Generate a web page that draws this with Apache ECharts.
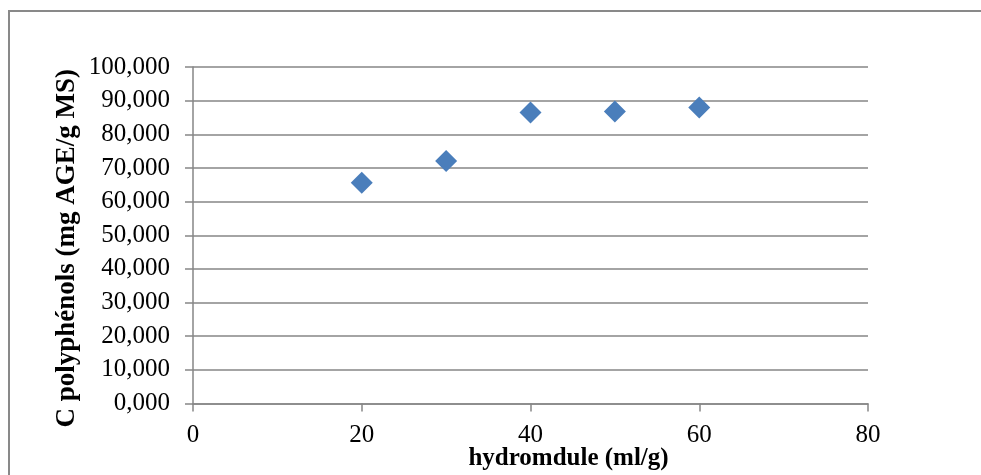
<!DOCTYPE html>
<html>
<head>
<meta charset="utf-8">
<script src="https://cdn.jsdelivr.net/npm/echarts@6/dist/echarts.min.js"></script>
<style>
html,body{margin:0;padding:0;background:#fff;}
#chart{width:981px;height:475px;}
</style>
</head>
<body>
<div id="chart"></div>
<script>
var hydromodule = [20, 30, 40, 50, 60];
var polyphenols = [65.6, 72.1, 86.5, 86.8, 88.0];
var xTitle = 'hydromdule (ml/g)';
var yTitle = 'C polyphénols (mg AGE/g MS)';

var chart = echarts.init(document.getElementById('chart'));
var serif = '"Liberation Serif", "Times New Roman", serif';
var points = hydromodule.map(function (x, i) { return [x, polyphenols[i]]; });

chart.setOption({
  animation: false,
  backgroundColor: '#fff',
  graphic: [{
    type: 'rect',
    shape: { x: 9, y: 11, width: 1200, height: 800 },
    style: { fill: 'none', stroke: '#898989', lineWidth: 2 },
    silent: true
  }],
  grid: { left: 193, right: 113, top: 67, bottom: 71.5, containLabel: false, outerBoundsMode: 'none' },
  xAxis: {
    type: 'value', min: 0, max: 80, interval: 20,
    name: xTitle, nameLocation: 'middle', nameGap: 43, nameMoveOverlap: false,
    nameTextStyle: { fontFamily: serif, fontWeight: 'bold', fontSize: 25, color: '#000', padding: [0, 0, 0, 76] },
    axisLine: { show: true, lineStyle: { color: '#868686', width: 1.5 } },
    axisTick: { show: true, length: 8, lineStyle: { color: '#868686', width: 1.5 } },
    axisLabel: { fontFamily: serif, fontSize: 25, color: '#000', margin: 19 },
    splitLine: { show: false }
  },
  yAxis: {
    type: 'value', min: 0, max: 100, interval: 10,
    name: yTitle, nameLocation: 'middle', nameGap: 112, nameRotate: 90, nameMoveOverlap: false,
    nameTextStyle: { fontFamily: serif, fontWeight: 'bold', fontSize: 27, color: '#000', padding: [0, 26, 0, 0] },
    axisLine: { show: true, lineStyle: { color: '#868686', width: 1.5 } },
    axisTick: { show: true, length: 8, lineStyle: { color: '#868686', width: 1.5 } },
    axisLabel: {
      fontFamily: serif, fontSize: 25, color: '#000', margin: 23,
      formatter: function (v) { return v.toFixed(3).replace('.', ','); }
    },
    splitLine: { show: true, lineStyle: { color: '#868686', width: 1.5 } }
  },
  series: [{
    type: 'scatter',
    data: points,
    symbol: 'diamond',
    symbolSize: [22, 22],
    itemStyle: { color: '#4a7ebb', opacity: 1 }
  }]
});
</script>
</body>
</html>
